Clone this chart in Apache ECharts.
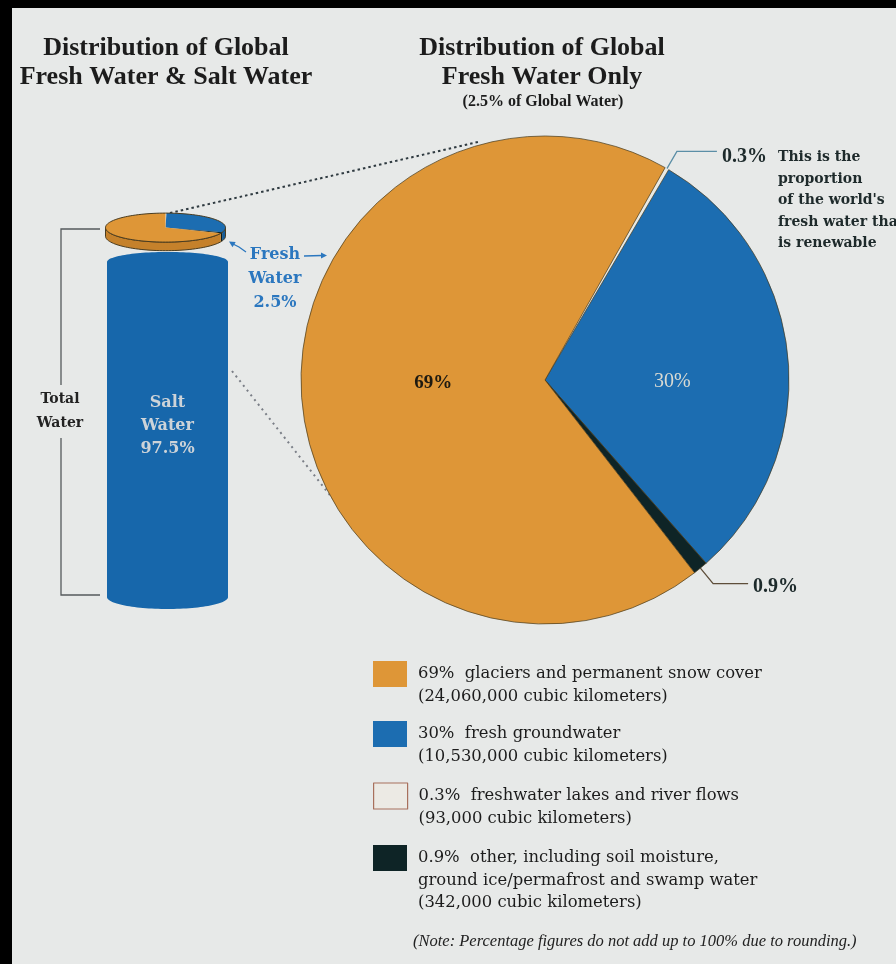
<!DOCTYPE html>
<html>
<head>
<meta charset="utf-8">
<script src="https://cdn.jsdelivr.net/npm/echarts@6/dist/echarts.min.js"></script>
<style>
html,body{margin:0;padding:0;background:#e7e9e8;}
#c{width:896px;height:964px;}
</style>
</head>
<body>
<div id="c"></div>
<script>
// ---------------- data ----------------
const globalCategories = ['Salt Water', 'Fresh Water'];
const globalShares = [97.5, 2.5];
const globalShareLabels = ['97.5%', '2.5%'];

// fresh water composition (pie order, clockwise)
const freshCategories = [
  'freshwater lakes and river flows',
  'fresh groundwater',
  'other, including soil moisture,\nground ice/permafrost and swamp water',
  'glaciers and permanent snow cover'
];
const freshVolumes = [93000, 10530000, 342000, 24060000]; // cubic kilometers
const freshPctLabels = ['0.3%', '30%', '0.9%', '69%'];
const legendOrder = [3, 1, 0, 2];

// ---------------- styles / layout ----------------
const freshColors = ['#e9eae4', '#1c6db1', '#0e2426', '#de9637'];
const sideColors = ['#d4d4cc', '#155c99', '#0a1a1b', '#c5812b'];
const saltColor = '#1767ab';
const legendIconTops = [661, 721, 783, 845];
const LH = 22.5;
const serif = 'DejaVu Serif';
const tSerif = 'Liberation Serif';

function ellipsePts(cx, cy, rx, ry, a0, a1) {
  const pts = [];
  const steps = Math.max(2, Math.ceil(Math.abs(a1 - a0) / 3));
  for (let k = 0; k <= steps; k++) {
    const a = (a0 + (a1 - a0) * k / steps) * Math.PI / 180;
    pts.push([cx + rx * Math.sin(a), cy - ry * Math.cos(a)]);
  }
  return pts;
}

const totalFresh = freshVolumes.reduce((s, v) => s + v, 0);

function legendLines(i) {
  return (freshPctLabels[i] + '  ' + freshCategories[i] + '\n(' +
    freshVolumes[i].toLocaleString('en-US') + ' cubic kilometers)').split('\n');
}
function legendText(name) {
  const lines = legendLines(freshCategories.indexOf(name));
  // blank lines above keep the first line level with the swatch
  const pad = [];
  for (let k = 1; k < lines.length; k++) pad.push(' ');
  return pad.concat(lines).join('\n');
}

// cumulative data for the cylinder
let acc = 0;
const globalData = globalShares.map((v, i) => {
  const d = { name: globalCategories[i], value: [acc, v] };
  acc += v;
  return d;
});

const chart = echarts.init(document.getElementById('c'), null, { renderer: 'canvas' });

const pieLabel = [
  { show: true, position: 'outside', formatter: freshPctLabels[0], fontFamily: tSerif, fontWeight: 'bold', fontSize: 20, color: '#1d2a2b' },
  { show: true, position: 'inside', formatter: freshPctLabels[1], fontFamily: tSerif, fontWeight: 'normal', fontSize: 20, color: '#d9dad3' },
  { show: true, position: 'outside', formatter: freshPctLabels[2], fontFamily: tSerif, fontWeight: 'bold', fontSize: 20, color: '#1d2a2b' },
  { show: true, position: 'inside', formatter: freshPctLabels[3], fontFamily: tSerif, fontWeight: 'bold', fontSize: 19, color: '#1e1a10' }
];
const pieLine = [
  { show: true, length: 20, length2: 40, smooth: false, lineStyle: { color: '#5b8ea6', width: 1.3 } },
  { show: false },
  { show: true, length: 20, length2: 35, smooth: false, lineStyle: { color: '#5e4e3a', width: 1.3 } },
  { show: false }
];

const option = {
  backgroundColor: '#e7e9e8',
  animation: false,
  title: [
    { text: 'Distribution of Global\nFresh Water & Salt Water', left: 166, top: 33.5, padding: 0, textAlign: 'center',
      textStyle: { fontFamily: tSerif, fontWeight: 'bold', fontSize: 26, lineHeight: 29, color: '#1c1c1c' } },
    { text: 'Distribution of Global\nFresh Water Only', left: 542, top: 33.5, padding: 0, textAlign: 'center',
      textStyle: { fontFamily: tSerif, fontWeight: 'bold', fontSize: 26, lineHeight: 29, color: '#1c1c1c' } },
    { text: '(2.5% of Global Water)', left: 543, top: 93, padding: 0, textAlign: 'center',
      textStyle: { fontFamily: tSerif, fontWeight: 'bold', fontSize: 16, lineHeight: 18, color: '#1c1c1c' } }
  ],
  legend: legendOrder.map((di, k) => {
    const n = legendLines(di).length;
    const data = { name: freshCategories[di] };
    if (di === 0) data.itemStyle = { color: '#eceae4', borderColor: '#a8705c', borderWidth: 1.2 };
    return {
      orient: 'vertical', left: 373, top: legendIconTops[k] + 13 - (2 * n - 1) * LH / 2,
      padding: 0, itemWidth: 34, itemHeight: 26, icon: 'rect', selectedMode: false,
      itemStyle: { borderWidth: 0 },
      data: [data],
      formatter: legendText,
      textStyle: { fontFamily: serif, fontSize: 16.4, color: '#1c1c1c', lineHeight: LH, padding: [0, 0, 0, 6] }
    };
  }),
  grid: { left: 107, top: 219, width: 121, height: 378 },
  xAxis: { type: 'value', min: 0, max: 1, show: false },
  yAxis: { type: 'value', min: 0, max: 110, show: false },
  graphic: [
    { type: 'rect', shape: { x: 0, y: 0, width: 12, height: 964 }, style: { fill: '#000' }, z: 100 },
    { type: 'rect', shape: { x: 0, y: 0, width: 896, height: 8 }, style: { fill: '#000' }, z: 100 },
    // exploded-view connector lines
    { type: 'line', shape: { x1: 170, y1: 213, x2: 478, y2: 142 }, style: { stroke: '#2f3a40', lineWidth: 2, lineDash: [2.5, 3] }, z: 0 },
    { type: 'line', shape: { x1: 232, y1: 371, x2: 333, y2: 499 }, style: { stroke: '#7a7e86', lineWidth: 2, lineDash: [2, 4] }, z: 0 },
    // total water bracket
    { type: 'polyline', shape: { points: [[100, 229], [61, 229], [61, 385]] }, style: { stroke: '#555a5c', lineWidth: 1.3, fill: null } },
    { type: 'polyline', shape: { points: [[61, 438], [61, 595], [100, 595]] }, style: { stroke: '#555a5c', lineWidth: 1.3, fill: null } },
    { type: 'text', style: { text: 'Total\nWater', x: 60, y: 411, align: 'center', verticalAlign: 'middle',
      fontFamily: serif, fontWeight: 'bold', fontSize: 14, lineHeight: 24, fill: '#222' } },
    // fresh water label + arrows
    { type: 'text', style: { text: globalCategories[1].split(' ').join('\n') + '\n' + globalShareLabels[1], x: 275, y: 279,
      align: 'center', verticalAlign: 'middle', fontFamily: serif, fontWeight: 'bold', fontSize: 16, lineHeight: 24, fill: '#2b77bf' } },
    { type: 'polyline', shape: { points: [[246, 252], [239, 247], [233, 244]] }, style: { stroke: '#2b77bf', lineWidth: 1.3, fill: null } },
    { type: 'polygon', shape: { points: [[229, 241.5], [235.7, 242.1], [232.5, 247.2]] }, style: { fill: '#2b77bf' } },
    { type: 'line', shape: { x1: 304, y1: 256, x2: 322, y2: 255.5 }, style: { stroke: '#2b77bf', lineWidth: 1.3 } },
    { type: 'polygon', shape: { points: [[327, 255.5], [321, 252.5], [321, 258.5]] }, style: { fill: '#2b77bf' } },
    // renewable note
    { type: 'text', style: { text: "This is the\nproportion\nof the world's\nfresh water that\nis renewable", x: 778, y: 147,
      align: 'left', verticalAlign: 'top', fontFamily: serif, fontWeight: 'bold', fontSize: 14, lineHeight: 21.5, fill: '#1e2a2b' } },
    // footnote
    { type: 'text', style: { text: '(Note: Percentage figures do not add up to 100% due to rounding.)', x: 413, y: 942,
      align: 'left', verticalAlign: 'middle', fontFamily: tSerif, fontStyle: 'italic', fontSize: 16.5, fill: '#222' } }
  ],
  series: [
    {
      type: 'pie',
      center: [545, 380],
      radius: [0, 244],
      startAngle: 60.5,
      clockwise: true,
      avoidLabelOverlap: false,
      silent: true,
      itemStyle: { borderColor: 'rgba(70,58,30,0.7)', borderWidth: 1 },
      labelLayout: function (p) {
        if (p.dataIndex === 0) return { dy: 6 };
        if (p.dataIndex === 1) return { dx: 3, dy: 14 };
        if (p.dataIndex === 2) return { dy: 3 };
        if (p.dataIndex === 3) return { dx: 13, dy: -6 };
        return {};
      },
      data: freshCategories.map((n, i) => ({
        name: n,
        value: freshVolumes[i],
        itemStyle: i === 0 ? { color: freshColors[i], borderWidth: 0 } : { color: freshColors[i] },
        label: pieLabel[i],
        labelLine: pieLine[i]
      }))
    },
    {
      type: 'custom',
      coordinateSystem: 'cartesian2d',
      silent: true,
      data: globalData,
      renderItem: function (params, api) {
        const base = api.value(0), h = api.value(1);
        const x0 = api.coord([0, 0])[0], x1 = api.coord([1, 0])[0];
        const cx = (x0 + x1) / 2, rx = (x1 - x0) / 2;
        if (params.dataIndex === 0) {
          const yb = api.coord([0, base])[1], yt = api.coord([0, base + h])[1];
          const pts = ellipsePts(cx, yt, rx, 10, -90, 90).concat(ellipsePts(cx, yb, rx, 12, 90, 270));
          return {
            type: 'group', children: [
              { type: 'polygon', shape: { points: pts }, style: { fill: saltColor } },
              { type: 'text', style: { text: globalCategories[0].split(' ').join('\n') + '\n' + globalShareLabels[0],
                x: cx, y: (yt + yb) / 2 - 4, align: 'center', verticalAlign: 'middle',
                fontFamily: serif, fontWeight: 'bold', fontSize: 16, lineHeight: 23, fill: '#cdd3d8' } }
            ]
          };
        }
        const lift = 7.5;
        const yb = api.coord([0, base + lift])[1], yt = api.coord([0, base + h + lift])[1];
        const dcx = cx - 2, drx = rx - 0.5, dry = 14.5;
        let a = 0;
        const slices = freshVolumes.map(v => { const s = a; a += v / totalFresh * 360; return [s, a]; });
        const children = [];
        slices.forEach(([s, e], i) => {
          const s2 = Math.max(s, 90), e2 = Math.min(e, 270);
          if (e2 > s2) {
            children.push({ type: 'polygon', shape: { points: ellipsePts(dcx, yt, drx, dry, s2, e2).concat(ellipsePts(dcx, yb, drx, dry, e2, s2)) },
              style: { fill: sideColors[i] } });
          }
        });
        children.push({ type: 'polygon', shape: { points: ellipsePts(dcx, yt, drx, dry, 90, 270).concat(ellipsePts(dcx, yb, drx, dry, 270, 90)) },
          style: { fill: null, stroke: '#4a3c20', lineWidth: 1 } });
        slices.forEach(([s, e], i) => {
          children.push({ type: 'polygon', shape: { points: [[dcx, yt]].concat(ellipsePts(dcx, yt, drx, dry, s, e)) },
            style: { fill: freshColors[i] } });
        });
        children.push({ type: 'polygon', shape: { points: ellipsePts(dcx, yt, drx, dry, 0, 360) },
          style: { fill: null, stroke: '#4a3c20', lineWidth: 1 } });
        return { type: 'group', children: children };
      }
    }
  ]
};

chart.setOption(option);
</script>
</body>
</html>
